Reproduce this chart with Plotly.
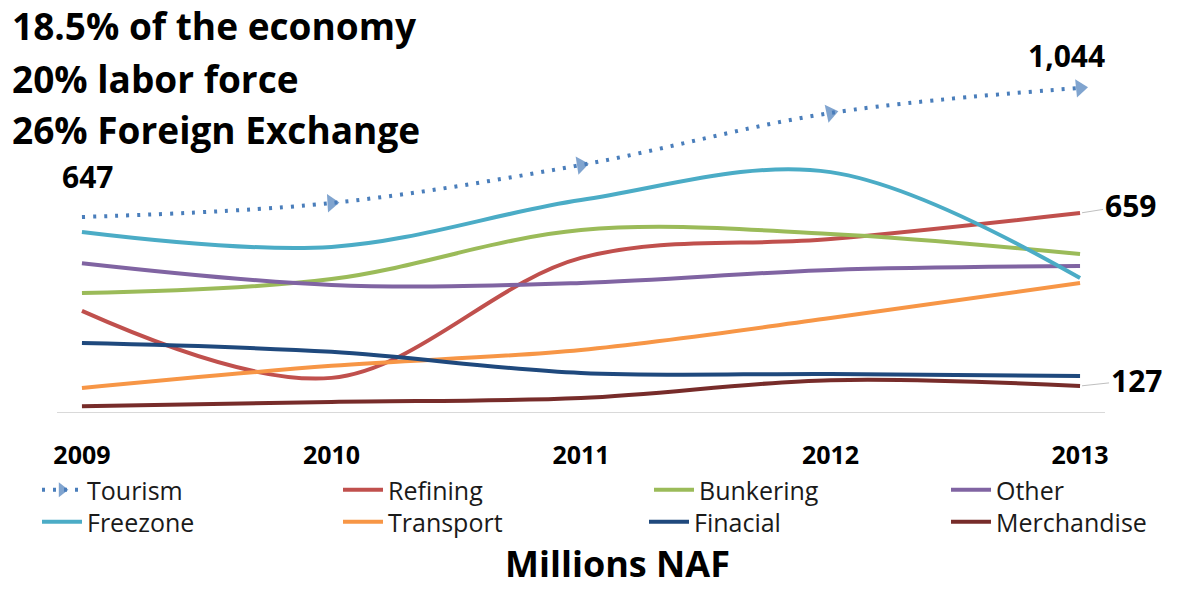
import plotly.graph_objects as go

years = ["2009", "2010", "2011", "2012", "2013"]
tourism = [647, 690, 807, 967, 1044]
refining = [358, 152, 521, 579, 659]
bunkering = [413, 456, 607, 595, 533]
other = [505, 438, 444, 484, 496]
freezone = [601, 555, 699, 785, 459]
transport = [121, 189, 238, 336, 444]
financial = [259, 232, 167, 164, 158]
merchandise = [65, 78, 90, 145, 127]

FONT = "Open Sans"
OFF = 8  # page body margin
W, H = 1193 - OFF, 590 - OFF
# plot area in page pixels: left 57, right 1105, top 60, bottom 412
L, R, T, B = 57 - OFF, W - (1105 - OFF), 60 - OFF, H - (412 - OFF)
pw, ph = W - L - R, H - T - B

def px2paper(x, y):
    """page pixel -> paper coords"""
    x, y = x - OFF, y - OFF
    return (x - L) / pw, (H - B - y) / ph

xs = list(range(len(years)))

# legend slot: (text start x, row)
legend_slots = {
    "Tourism": (88, 0), "Freezone": (88, 1),
    "Refining": (389, 0), "Transport": (389, 1),
    "Bunkering": (700, 0), "Finacial": (695, 1),
    "Other": (997, 0), "Merchandise": (997, 1),
}
legend_keys = {}
legends = {}
legend_font = dict(family=FONT, size=25, color="#1a1a1a")
for i, (name, (tx, row)) in enumerate(legend_slots.items()):
    key = "legend" if i == 0 else f"legend{i + 1}"
    legend_keys[name] = key
    xp, yp = px2paper(tx - 51, 467 + 32 * row)
    legends[key] = dict(orientation="v", bgcolor="rgba(0,0,0,0)", borderwidth=0,
                        font=legend_font, xanchor="left", yanchor="top",
                        itemwidth=40, x=xp, y=yp)

fig = go.Figure()

fig.add_trace(go.Scatter(
    x=xs, y=tourism, name="Tourism", mode="lines+markers", legend=legend_keys["Tourism"],
    line=dict(color="#4a7ebb", width=4, dash="3px,8px", shape="spline", smoothing=1),
    marker=dict(symbol="triangle-up", angleref="previous", size=[0, 16, 16, 16, 16],
                color="#4a7ebb", line=dict(width=0)),
))

series = [
    ("Refining", refining, "#c0504d"),
    ("Bunkering", bunkering, "#9bbb59"),
    ("Other", other, "#8064a2"),
    ("Freezone", freezone, "#4bacc6"),
    ("Transport", transport, "#f79646"),
    ("Finacial", financial, "#1f497d"),
    ("Merchandise", merchandise, "#772c2a"),
]
for name, vals, col in series:
    fig.add_trace(go.Scatter(
        x=xs, y=vals, name=name, mode="lines", legend=legend_keys[name],
        line=dict(color=col, width=4, shape="spline", smoothing=1),
    ))

annotations = []
for txt, cy in [("18.5% of the economy", 25), ("20% labor force", 78), ("26% Foreign Exchange", 129)]:
    xp, yp = px2paper(10, cy)
    annotations.append(dict(text=f"<b>{txt}</b>", x=xp, y=yp, xref="paper", yref="paper",
                            xanchor="left", yanchor="middle", showarrow=False,
                            font=dict(family=FONT, size=37, color="#000000")))

lab_font = dict(family=FONT, size=30, color="#000000")
annotations.append(dict(text=f"<b>{tourism[0]:,}</b>", x=0, y=tourism[0], xref="x", yref="y",
                        xshift=6, yshift=40, showarrow=False, font=lab_font))
annotations.append(dict(text=f"<b>{tourism[-1]:,}</b>", x=4, y=tourism[-1], xref="x", yref="y",
                        xshift=-14, yshift=32, showarrow=False, font=lab_font))
annotations.append(dict(text=f"<b>{refining[-1]:,}</b>", x=4, y=refining[-1], xref="x", yref="y",
                        ax=50, ay=-8, showarrow=True, arrowhead=0, arrowwidth=1,
                        arrowcolor="#bfbfbf", standoff=2, font=lab_font))
annotations.append(dict(text=f"<b>{merchandise[-1]:,}</b>", x=4, y=merchandise[-1], xref="x", yref="y",
                        ax=56, ay=-6, showarrow=True, arrowhead=0, arrowwidth=1,
                        arrowcolor="#bfbfbf", standoff=2, font=lab_font))
xp, yp = px2paper(617, 590)
annotations.append(dict(text="<b>Millions NAF</b>", x=xp, y=yp, xref="paper", yref="paper",
                        xanchor="center", yanchor="bottom", showarrow=False,
                        font=dict(family=FONT, size=36, color="#000000")))

fig.update_layout(
    width=W, height=H,
    margin=dict(l=L, r=R, t=T, b=B, autoexpand=False),
    paper_bgcolor="white", plot_bgcolor="white",
    showlegend=True,
    annotations=annotations,
    **legends,
    xaxis=dict(range=[-0.1, 4.1], tickvals=xs, ticktext=[f"<b>{y}</b>" for y in years],
               showgrid=False, zeroline=False, showline=True, linecolor="#d9d9d9", linewidth=1,
               ticks="", ticklabelstandoff=21,
               tickfont=dict(family=FONT, size=25, color="#000000")),
    yaxis=dict(range=[47, 1130], visible=False, showgrid=False, zeroline=False),
)

fig.write_html("out.html")
